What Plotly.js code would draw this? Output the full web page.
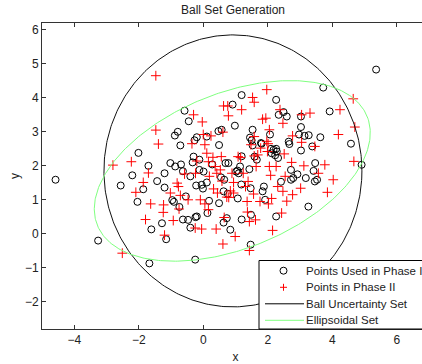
<!DOCTYPE html>
<html>
<head>
<meta charset="utf-8">
<script src="https://cdn.plot.ly/plotly-3.0.1.min.js"></script>
<style>
html, body { margin: 0; padding: 0; overflow: hidden; background: #fff; }
#chart { width: 460px; height: 364px; }
</style>
</head>
<body>
<div id="chart"></div>
<script>
// Phase I points (open circles)
const phase1X = [-4.58,-3.26,-2.56,-2.20,-2.01,-2.04,-1.86,-1.70,-1.61,-1.67,-1.43,-1.28,-1.20,-1.20,-1.15,-1.02,-0.96,-0.91,-0.87,-0.88,-0.79,-0.74,-0.71,-0.69,-0.63,-0.58,-0.63,-0.54,-0.47,-0.45,-0.40,-0.40,-0.33,-0.30,-0.27,-0.24,-0.20,-0.22,-0.25,-0.20,-0.12,-0.12,-0.05,-0.01,0.01,0.11,0.11,0.13,0.18,0.28,0.47,0.49,0.49,0.55,0.57,0.63,0.63,0.65,0.69,0.73,0.76,0.78,0.84,0.91,0.98,1.02,1.06,1.07,1.10,1.14,1.18,1.19,1.19,1.19,1.43,1.45,1.47,1.47,1.48,1.50,1.53,1.53,1.59,1.66,1.79,1.81,1.84,1.88,1.92,2.07,2.10,2.12,2.18,2.23,2.26,2.28,2.26,2.32,2.34,2.26,2.41,2.49,2.59,2.65,2.67,2.72,2.72,2.79,2.92,2.97,3.03,3.03,3.03,3.14,3.18,3.26,3.27,3.38,3.46,3.47,3.42,3.53,3.63,3.72,3.92,4.58,4.91,5.36];
const phase1Y = [1.59,-0.20,1.42,1.72,2.38,0.94,1.31,2.00,0.13,-0.87,1.55,0.31,1.78,1.36,-0.16,2.08,0.99,0.94,1.98,2.89,3.00,0.79,2.60,2.04,0.42,3.62,1.84,1.10,0.41,3.31,0.18,1.69,2.10,2.27,2.75,0.49,2.84,1.42,-0.76,0.51,1.88,2.18,1.44,1.33,1.83,1.51,2.86,0.61,0.97,2.04,3.02,2.61,0.90,1.66,3.06,0.33,1.25,1.59,2.08,0.46,1.18,2.08,0.12,3.80,3.18,1.83,1.86,1.04,1.78,1.98,1.45,2.28,4.08,0.42,1.90,2.83,1.34,-0.32,0.56,2.75,3.06,2.60,2.27,2.18,2.67,2.65,1.25,1.39,1.00,2.92,2.50,2.37,2.47,2.31,2.50,2.42,3.94,2.23,3.50,0.51,1.53,3.58,3.45,2.71,2.64,1.59,1.88,1.64,1.75,2.92,2.45,3.14,3.45,2.88,1.64,0.80,2.90,2.57,1.54,2.08,1.85,1.59,2.84,4.30,3.60,2.65,2.03,4.83];

// Phase II points (red plus)
const phase2X = [-1.47,-2.80,-2.51,-2.23,-2.09,-1.86,-1.70,-1.63,-1.79,-1.47,-1.39,-1.23,-1.24,-1.20,-1.02,-0.93,-0.81,-0.77,-0.75,-0.71,-0.58,-0.47,-0.35,-0.30,-0.24,-0.25,-0.20,-0.05,-0.03,-0.09,0.00,0.05,0.11,0.16,0.19,0.24,0.30,0.32,0.37,0.40,0.42,0.44,0.53,0.56,0.58,0.61,0.61,0.63,0.65,0.73,0.76,0.78,0.79,0.84,0.89,0.99,1.08,1.16,1.19,1.24,1.31,1.36,1.37,1.43,1.43,1.48,1.53,1.58,1.56,1.58,1.62,1.64,1.69,1.76,1.84,1.94,1.97,1.97,2.01,2.05,2.05,2.09,2.02,2.12,2.15,2.26,2.31,2.38,2.43,2.47,2.51,2.47,2.54,2.59,2.74,2.77,2.77,3.05,3.05,3.02,3.12,3.31,3.46,3.57,3.77,3.85,4.03,4.19,4.24,4.65,4.67,4.70,1.78,0.94,1.58,0.05,0.16,0.94,1.39,1.99];
const phase2Y = [4.65,2.02,-0.57,2.12,1.22,1.51,1.79,0.88,0.42,3.05,2.64,0.85,0.63,-0.04,1.20,0.39,1.49,1.39,0.73,1.13,1.76,1.00,2.65,3.50,1.78,0.17,2.14,0.14,3.29,1.00,2.92,2.62,2.37,2.12,1.69,2.88,2.25,1.32,1.98,0.14,1.78,1.20,1.88,2.27,1.55,2.99,-0.30,3.76,0.48,1.08,3.76,3.47,1.07,1.26,1.78,-0.08,2.27,2.24,3.65,1.78,1.39,0.95,0.64,-0.49,0.36,2.62,4.01,3.87,1.17,2.29,0.41,1.98,2.32,0.95,3.37,3.40,4.24,2.72,2.65,3.06,1.98,1.72,0.88,1.04,0.10,1.98,1.39,3.65,0.61,1.25,2.35,3.25,1.69,0.96,2.10,2.88,1.15,3.50,2.69,1.34,2.00,3.55,2.57,1.78,2.03,1.22,1.59,2.92,3.65,3.97,2.13,3.14,2.52,1.51,2.86,0.88,0.71,1.20,1.54,2.42];

// Ball uncertainty set: center and radius
const ballCenter = [0.92, 1.85];
const ballRadius = 4.0;

// Ellipsoidal set: center, semi-axes, rotation (degrees)
const ellCenter = [0.90, 1.85];
const ellSemiAxes = [4.48, 2.30];
const ellAngleDeg = 20.2;

// Legend labels
const seriesNames = ['Points Used in Phase I', 'Points in Phase II', 'Ball Uncertainty Set', 'Ellipsoidal Set'];

const N = 361;
const ballX = [], ballY = [], ellX = [], ellY = [];
const phi = ellAngleDeg * Math.PI / 180;
for (let i = 0; i < N; i++) {
  const t = 2 * Math.PI * i / (N - 1);
  ballX.push(ballCenter[0] + ballRadius * Math.cos(t));
  ballY.push(ballCenter[1] + ballRadius * Math.sin(t));
  const u = ellSemiAxes[0] * Math.cos(t), v = ellSemiAxes[1] * Math.sin(t);
  ellX.push(ellCenter[0] + u * Math.cos(phi) - v * Math.sin(phi));
  ellY.push(ellCenter[1] + u * Math.sin(phi) + v * Math.cos(phi));
}

const font = 'Liberation Sans, Arial, Helvetica, sans-serif';
const RED = '#ff0000', GREEN = '#80ff80', BLACK = '#000';

const traces = [
  { x: phase1X, y: phase1Y, type: 'scatter', mode: 'markers', name: seriesNames[0],
    marker: { symbol: 'circle-open', size: 7, color: BLACK, line: { width: 1, color: BLACK } } },
  { x: phase2X, y: phase2Y, type: 'scatter', mode: 'markers', name: seriesNames[1],
    marker: { symbol: 'cross-thin-open', size: 7, color: RED, line: { width: 1, color: RED } } },
  { x: ballX, y: ballY, type: 'scatter', mode: 'lines', name: seriesNames[2],
    line: { color: '#111', width: 1 } },
  { x: ellX, y: ellY, type: 'scatter', mode: 'lines', name: seriesNames[3],
    line: { color: GREEN, width: 1 } }
];

// plot area geometry (pixels)
const W = 460, H = 364, L = 42, R = 31, T = 23, B = 35;
const pw = W - L - R, ph = H - T - B;
const px2x = p => (p - L) / pw;
const px2y = p => (H - B - p) / ph;

// manual legend (MATLAB-style, compact)
const legLeft = 259, legTop = 260.5;
const rowY = [270.7, 287.3, 303.8, 320.3];
const symX = 283.5, lineX0 = 265, lineX1 = 304, textX = 305;

const shapes = [
  { type: 'rect', xref: 'paper', yref: 'paper', layer: 'above',
    x0: px2x(legLeft), x1: 1.3, y0: 0, y1: px2y(legTop),
    fillcolor: '#fff', line: { color: BLACK, width: 1 } },
  { type: 'circle', xref: 'paper', yref: 'paper', layer: 'above',
    xsizemode: 'pixel', ysizemode: 'pixel', xanchor: px2x(symX), yanchor: px2y(rowY[0]),
    x0: -3.5, x1: 3.5, y0: -3.5, y1: 3.5, line: { color: BLACK, width: 1 } },
  { type: 'line', xref: 'paper', yref: 'paper', layer: 'above',
    xsizemode: 'pixel', ysizemode: 'pixel', xanchor: px2x(symX), yanchor: px2y(rowY[1]),
    x0: -3.5, x1: 3.5, y0: 0, y1: 0, line: { color: RED, width: 1 } },
  { type: 'line', xref: 'paper', yref: 'paper', layer: 'above',
    xsizemode: 'pixel', ysizemode: 'pixel', xanchor: px2x(symX), yanchor: px2y(rowY[1]),
    x0: 0, x1: 0, y0: -3.5, y1: 3.5, line: { color: RED, width: 1 } },
  { type: 'line', xref: 'paper', yref: 'paper', layer: 'above',
    x0: px2x(lineX0), x1: px2x(lineX1), y0: px2y(rowY[2]), y1: px2y(rowY[2]),
    line: { color: BLACK, width: 1 } },
  { type: 'line', xref: 'paper', yref: 'paper', layer: 'above',
    x0: px2x(lineX0), x1: px2x(lineX1), y0: px2y(rowY[3]), y1: px2y(rowY[3]),
    line: { color: GREEN, width: 1 } }
];

const annotations = seriesNames.map((name, i) => ({
  text: name, xref: 'paper', yref: 'paper', x: px2x(textX), y: px2y(rowY[i]),
  xanchor: 'left', yanchor: 'middle', showarrow: false, align: 'left',
  font: { family: font, size: 11.5, color: '#222' }, borderpad: 0
}));

const axisCommon = {
  showgrid: false, zeroline: false, showline: true, linecolor: '#333', linewidth: 1,
  mirror: 'ticks', ticks: 'inside', ticklen: 4, tickcolor: '#333',
  tickfont: { family: font, size: 12, color: '#222' }
};

const layout = {
  width: W, height: H,
  margin: { l: L, r: R, t: T, b: B, pad: 0 },
  paper_bgcolor: '#fff', plot_bgcolor: '#fff',
  title: { text: 'Ball Set Generation', font: { family: font, size: 12, color: '#222' },
           x: (233 / W), xanchor: 'center', y: 1 - 10 / H, yanchor: 'middle' },
  xaxis: Object.assign({}, axisCommon, { range: [-5, 7], dtick: 2, tick0: 0,
    title: { text: 'x', font: { family: font, size: 12, color: '#222' }, standoff: 6 } }),
  yaxis: Object.assign({}, axisCommon, { range: [-2.8, 6.2], dtick: 1, tick0: 0,
    title: { text: 'y', font: { family: font, size: 12, color: '#222' }, standoff: 2 } }),
  showlegend: false,
  shapes: shapes,
  annotations: annotations
};

Plotly.newPlot('chart', traces, layout, { displayModeBar: false, staticPlot: true });
</script>
</body>
</html>
